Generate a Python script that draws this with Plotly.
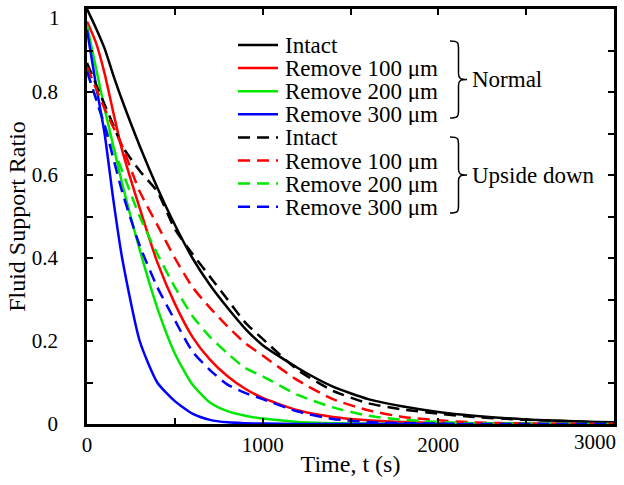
import plotly.graph_objects as go

# ---------------- data ----------------
t_a = [0, 50, 100, 150, 200, 300, 400, 500, 600, 700, 800, 900, 1000, 1200, 1400, 1600, 1800, 2000, 2200, 2500, 3000]

normal_intact = [1.0, 0.955, 0.905, 0.84, 0.78, 0.67, 0.57, 0.48, 0.40, 0.335, 0.28, 0.23, 0.19, 0.135, 0.09, 0.06, 0.042, 0.029, 0.02, 0.011, 0.004]
normal_r100 = [0.97, 0.92, 0.845, 0.75, 0.66, 0.52, 0.39, 0.29, 0.21, 0.155, 0.115, 0.085, 0.063, 0.033, 0.017, 0.009, 0.005, 0.002, 0.001, 0.0, 0.0]
normal_r200 = [0.96, 0.86, 0.76, 0.67, 0.58, 0.42, 0.28, 0.17, 0.095, 0.052, 0.031, 0.02, 0.013, 0.005, 0.002, 0.001, 0.0, 0.0, 0.0, 0.0, 0.0]
normal_r300 = [0.95, 0.82, 0.70, 0.54, 0.40, 0.20, 0.10, 0.055, 0.025, 0.01, 0.004, 0.002, 0.001, 0.0, 0.0, 0.0, 0.0, 0.0, 0.0, 0.0, 0.0]

upside_intact = [0.87, 0.82, 0.77, 0.72, 0.67, 0.61, 0.56, 0.47, 0.41, 0.355, 0.30, 0.245, 0.205, 0.13, 0.08, 0.05, 0.035, 0.025, 0.017, 0.01, 0.003]
upside_r100 = [0.86, 0.81, 0.76, 0.715, 0.67, 0.56, 0.48, 0.40, 0.33, 0.28, 0.235, 0.195, 0.165, 0.105, 0.06, 0.033, 0.017, 0.009, 0.004, 0.001, 0.0]
upside_r200 = [0.85, 0.785, 0.72, 0.665, 0.61, 0.50, 0.41, 0.33, 0.26, 0.21, 0.17, 0.135, 0.115, 0.07, 0.04, 0.02, 0.01, 0.005, 0.002, 0.001, 0.0]
upside_r300 = [0.85, 0.785, 0.72, 0.64, 0.56, 0.43, 0.33, 0.25, 0.175, 0.13, 0.095, 0.075, 0.06, 0.03, 0.012, 0.005, 0.002, 0.001, 0.0, 0.0, 0.0]

series_names = ["Intact", "Remove 100 μm", "Remove 200 μm", "Remove 300 μm"]
series_colors = ["#000000", "#ff0000", "#00e800", "#0000ff"]
normal_series = [normal_intact, normal_r100, normal_r200, normal_r300]
upside_series = [upside_intact, upside_r100, upside_r200, upside_r300]
group_labels = ["Normal", "Upside down"]

x_tickvals = [0, 500, 1000, 1500, 2000, 2500, 3000]
x_ticktext = ["0", "", "1000", "", "2000", "", ""]
x_last_label = "3000"
y_tickvals = [0, 0.1, 0.2, 0.3, 0.4, 0.5, 0.6, 0.7, 0.8, 0.9, 1.0]
y_ticktext = ["0", "", "0.2", "", "0.4", "", "0.6", "", "0.8", "", ""]
y_top_label = "1"

# ---------------- layout geometry ----------------
W, H = 624, 485
L, R, T, B = 87, 10, 9, 61
PW, PH = W - L - R, H - T - B
FONT = "Liberation Serif"
DASH = "12px,7px"
LW = 2.5


def px(x):
    return (x - L) / PW


def py(y):
    return (T + PH - y) / PH


fig = go.Figure()
for name, col, ys in zip(series_names, series_colors, normal_series):
    fig.add_trace(go.Scatter(x=t_a, y=ys, mode="lines", name=name,
                             line=dict(color=col, width=LW, shape="spline", smoothing=0.6),
                             showlegend=False))
for name, col, ys in zip(series_names, series_colors, upside_series):
    fig.add_trace(go.Scatter(x=t_a, y=ys, mode="lines", name=name,
                             line=dict(color=col, width=LW, dash=DASH, shape="spline", smoothing=0.6),
                             showlegend=False))

# ---------------- manual legend ----------------
shapes = []
annotations = []
row0, row_step = 45, 23.1
names8 = series_names + series_names
cols8 = series_colors + series_colors
LEG_FONT = dict(family=FONT, size=23, color="black")
TICK_FONT = dict(family=FONT, size=21, color="black")
TITLE_FONT = dict(family=FONT, size=24, color="black")
for i in range(8):
    yc = row0 + i * row_step
    shapes.append(dict(type="line", xref="paper", yref="paper",
                       x0=px(238), x1=px(278), y0=py(yc), y1=py(yc),
                       line=dict(color=cols8[i], width=LW, dash=("solid" if i < 4 else DASH))))
    annotations.append(dict(xref="paper", yref="paper", x=px(283), y=py(yc),
                            text=names8[i], showarrow=False, xanchor="left", yanchor="middle",
                            height=22, valign="middle", font=LEG_FONT))


def brace(top, bot, xl, xr):
    mid = (top + bot) / 2
    xm = (xl + xr) / 2
    pts = [
        f"M {px(xl)},{py(top)}",
        f"C {px(xm)},{py(top)} {px(xm)},{py(top + 2)} {px(xm)},{py(top + 8)}",
        f"L {px(xm)},{py(mid - 6)}",
        f"C {px(xm)},{py(mid - 1)} {px(xm + 2)},{py(mid)} {px(xr)},{py(mid)}",
        f"C {px(xm + 2)},{py(mid)} {px(xm)},{py(mid + 1)} {px(xm)},{py(mid + 6)}",
        f"L {px(xm)},{py(bot - 8)}",
        f"C {px(xm)},{py(bot - 2)} {px(xm)},{py(bot)} {px(xl)},{py(bot)}",
    ]
    return dict(type="path", xref="paper", yref="paper", path=" ".join(pts),
                line=dict(color="black", width=1.5))


shapes.append(brace(41, 118, 450, 467))
shapes.append(brace(137, 213, 450, 467))
annotations.append(dict(xref="paper", yref="paper", x=px(470), y=py(80), text=group_labels[0],
                        showarrow=False, xanchor="left", yanchor="middle", font=LEG_FONT))
annotations.append(dict(xref="paper", yref="paper", x=px(470), y=py(175), text=group_labels[1],
                        showarrow=False, xanchor="left", yanchor="middle", font=LEG_FONT))
# end tick labels, pulled inside the picture as in the reference
annotations.append(dict(xref="paper", yref="paper", x=px(595), y=py(442), text=x_last_label,
                        showarrow=False, xanchor="center", yanchor="middle", font=TICK_FONT))
annotations.append(dict(xref="paper", yref="paper", x=px(54), y=py(18), text=y_top_label,
                        showarrow=False, xanchor="center", yanchor="middle", font=TICK_FONT))

axis_common = dict(showline=True, linecolor="black", linewidth=2.5, mirror="ticks",
                   ticks="inside", ticklen=6, tickwidth=1.5, tickcolor="black",
                   showgrid=False, zeroline=False, automargin=False,
                   ticklabeloverflow="allow", tickfont=TICK_FONT)

fig.update_layout(
    width=W, height=H,
    margin=dict(l=L, r=R, t=T, b=B, autoexpand=False),
    paper_bgcolor="white", plot_bgcolor="white",
    font=dict(family=FONT, size=21, color="black"),
    xaxis=dict(range=[0, 3000], tickvals=x_tickvals, ticktext=x_ticktext,
               title=dict(text="Time, t (s)", font=TITLE_FONT, standoff=0),
               ticklabelstandoff=0, **axis_common),
    yaxis=dict(range=[0, 1], tickvals=y_tickvals, ticktext=y_ticktext,
               title=dict(text="Fluid Support Ratio", font=TITLE_FONT, standoff=0),
               ticklabelstandoff=22, **axis_common),
    shapes=shapes,
    annotations=annotations,
    showlegend=False,
)

fig.write_html("out.html", config={"displayModeBar": False},
               post_script="document.body.style.margin='0px';document.body.style.overflow='hidden';")
